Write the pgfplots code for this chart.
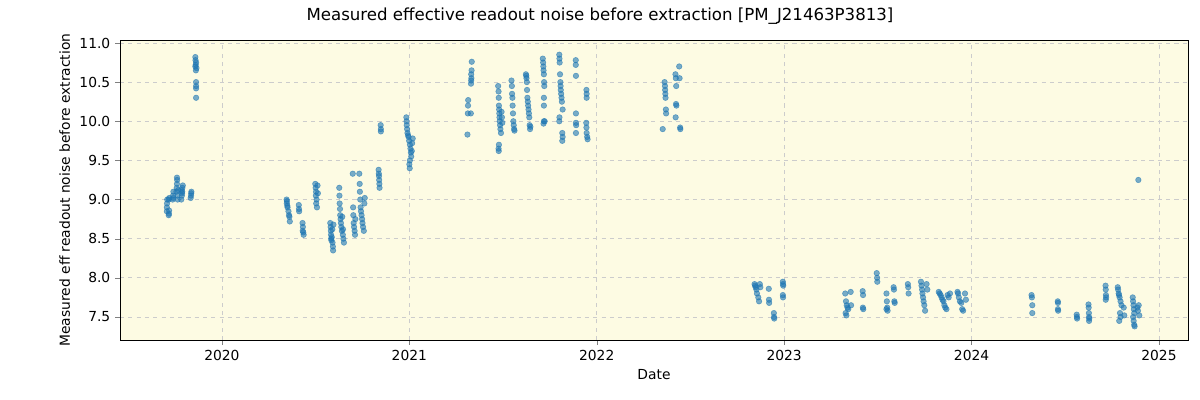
\documentclass[border=0pt]{standalone}
\usepackage{pgfplots}
\pgfplotsset{compat=1.18}
\usepackage{fontspec}
\setmainfont{DejaVu Sans}
\definecolor{bgc}{RGB}{253,251,227}
\definecolor{pts}{RGB}{31,119,180}
\begin{document}
\begin{tikzpicture}
\path[use as bounding box] (-1.2in,-0.6in) rectangle (10.8in,3.4in);
\begin{axis}[
  at={(0,0)}, anchor=south west,
  scale only axis, width=10.68in, height=3in,
  xmin=2019.456, xmax=2025.155, ymin=7.206, ymax=11.038,
  axis background/.style={fill=bgc},
  xtick={2020,2021,2022,2023,2024,2025},
  ytick={7.5,8,8.5,9,9.5,10,10.5,11},
  xticklabel style={/pgf/number format/.cd,set thousands separator={},assume math mode=true},
  yticklabel style={/pgf/number format/.cd,fixed,fixed zerofill,precision=1,assume math mode=true},
  tick align=outside, tick pos=left, major tick length=3.5pt,
  tick label style={font=\fontsize{10}{12}\selectfont},
  label style={font=\fontsize{10}{12}\selectfont},
  grid=major, major grid style={dashed,color=gray!40,line width=0.6pt},
  xlabel={Date}, ylabel={Measured eff readout noise before extraction},
  title={Measured effective readout noise before extraction [PM\_J21463P3813]},
  title style={font=\fontsize{12}{14}\selectfont, at={(0.5,1)}, anchor=center, yshift=0.155in, xshift=-0.54in},
  axis line style={black,line width=0.6pt},
]
\addplot[only marks, mark=*, mark size=2pt, color=pts, fill opacity=0.6, draw opacity=0.6] table {
x y
2019.706 8.90
2019.707 8.95
2019.708 9.00
2019.706 8.85
2019.716 8.80
2019.717 8.82
2019.718 8.86
2019.716 9.00
2019.719 9.02
2019.737 9.00
2019.739 9.05
2019.741 9.10
2019.740 9.02
2019.757 9.10
2019.759 9.15
2019.760 9.20
2019.761 9.25
2019.760 9.28
2019.763 9.05
2019.764 9.00
2019.766 9.12
2019.783 9.00
2019.786 9.05
2019.788 9.10
2019.789 9.15
2019.785 9.12
2019.791 9.18
2019.787 9.08
2019.833 9.02
2019.835 9.05
2019.836 9.08
2019.837 9.10
2019.858 10.82
2019.859 10.78
2019.862 10.75
2019.860 10.72
2019.858 10.70
2019.864 10.68
2019.861 10.65
2019.862 10.50
2019.862 10.45
2019.862 10.42
2019.862 10.30
2020.345 9.00
2020.347 8.98
2020.346 8.95
2020.349 8.92
2020.350 8.90
2020.355 8.85
2020.358 8.80
2020.360 8.78
2020.362 8.72
2020.410 8.93
2020.411 8.88
2020.412 8.85
2020.430 8.70
2020.432 8.65
2020.431 8.60
2020.434 8.58
2020.436 8.55
2020.498 9.20
2020.500 9.15
2020.502 9.10
2020.501 9.05
2020.505 9.00
2020.503 8.95
2020.507 8.90
2020.510 9.18
2020.512 9.08
2020.578 8.70
2020.580 8.65
2020.581 8.60
2020.582 8.55
2020.583 8.50
2020.590 8.45
2020.592 8.40
2020.593 8.35
2020.584 8.48
2020.586 8.52
2020.589 8.62
2020.595 8.68
2020.626 9.15
2020.627 9.05
2020.628 8.95
2020.630 8.88
2020.631 8.80
2020.633 8.75
2020.635 8.70
2020.637 8.65
2020.640 8.60
2020.645 8.55
2020.648 8.50
2020.651 8.45
2020.642 8.78
2020.646 8.62
2020.698 9.33
2020.700 8.90
2020.701 8.80
2020.703 8.70
2020.705 8.65
2020.708 8.60
2020.710 8.55
2020.712 8.75
2020.733 9.33
2020.735 9.20
2020.736 9.10
2020.738 9.00
2020.740 8.90
2020.742 8.85
2020.745 8.80
2020.748 8.75
2020.750 8.70
2020.753 8.65
2020.757 8.60
2020.760 8.95
2020.762 9.02
2020.836 9.38
2020.837 9.33
2020.838 9.30
2020.839 9.25
2020.840 9.20
2020.841 9.15
2020.847 9.95
2020.848 9.90
2020.848 9.87
2020.984 10.05
2020.985 10.00
2020.986 9.95
2020.988 9.90
2020.990 9.85
2020.993 9.82
2020.996 9.80
2020.999 9.75
2021.003 9.70
2021.006 9.65
2021.008 9.60
2021.010 9.55
2021.003 9.50
2021.000 9.45
2021.002 9.40
2021.015 9.72
2021.018 9.78
2021.013 9.62
2021.310 9.83
2021.312 10.10
2021.313 10.20
2021.314 10.27
2021.328 10.10
2021.329 10.48
2021.330 10.52
2021.331 10.55
2021.330 10.60
2021.332 10.65
2021.333 10.76
2021.474 10.45
2021.476 10.38
2021.477 10.30
2021.478 10.20
2021.479 10.15
2021.480 10.10
2021.481 10.05
2021.482 10.00
2021.484 9.95
2021.486 9.90
2021.489 9.85
2021.478 9.70
2021.476 9.65
2021.477 9.62
2021.492 10.12
2021.494 10.05
2021.496 9.98
2021.545 10.52
2021.547 10.45
2021.548 10.35
2021.550 10.30
2021.551 10.20
2021.553 10.10
2021.555 10.00
2021.557 9.95
2021.559 9.90
2021.561 9.88
2021.622 10.60
2021.624 10.58
2021.625 10.55
2021.627 10.50
2021.628 10.40
2021.630 10.30
2021.632 10.25
2021.634 10.20
2021.636 10.15
2021.638 10.10
2021.640 10.05
2021.642 9.95
2021.644 9.90
2021.646 9.93
2021.712 10.80
2021.714 10.75
2021.715 10.70
2021.716 10.65
2021.718 10.60
2021.719 10.50
2021.720 10.45
2021.718 10.30
2021.718 10.20
2021.718 10.00
2021.716 9.97
2021.722 10.00
2021.800 10.85
2021.801 10.80
2021.802 10.75
2021.804 10.60
2021.806 10.50
2021.807 10.45
2021.808 10.40
2021.810 10.35
2021.812 10.30
2021.814 10.25
2021.818 10.15
2021.801 10.05
2021.800 10.00
2021.816 9.85
2021.818 9.80
2021.816 9.75
2021.888 10.78
2021.888 10.72
2021.889 10.58
2021.889 10.10
2021.889 9.98
2021.890 9.95
2021.889 9.85
2021.945 10.40
2021.946 10.35
2021.946 10.30
2021.944 9.98
2021.945 9.92
2021.946 9.85
2021.949 9.80
2021.951 9.77
2022.352 9.90
2022.362 10.50
2022.364 10.45
2022.365 10.40
2022.366 10.35
2022.367 10.30
2022.369 10.15
2022.370 10.10
2022.420 10.60
2022.422 10.55
2022.424 10.45
2022.425 10.20
2022.423 10.22
2022.421 10.05
2022.440 10.70
2022.442 10.55
2022.445 9.92
2022.446 9.90
2022.842 7.92
2022.845 7.90
2022.848 7.88
2022.852 7.85
2022.855 7.80
2022.862 7.75
2022.866 7.70
2022.870 7.92
2022.873 7.88
2022.918 7.86
2022.919 7.72
2022.920 7.68
2022.945 7.55
2022.946 7.50
2022.947 7.48
2022.993 7.95
2022.994 7.92
2022.995 7.90
2022.994 7.75
2022.993 7.78
2023.326 7.80
2023.330 7.70
2023.334 7.65
2023.338 7.62
2023.342 7.60
2023.328 7.55
2023.332 7.52
2023.355 7.82
2023.357 7.65
2023.419 7.83
2023.421 7.78
2023.420 7.62
2023.422 7.60
2023.494 8.06
2023.496 8.00
2023.497 7.95
2023.546 7.80
2023.548 7.70
2023.550 7.62
2023.546 7.60
2023.552 7.58
2023.584 7.88
2023.586 7.85
2023.588 7.70
2023.590 7.68
2023.660 7.92
2023.662 7.88
2023.664 7.80
2023.730 7.95
2023.733 7.90
2023.736 7.85
2023.738 7.80
2023.741 7.75
2023.744 7.70
2023.748 7.65
2023.752 7.58
2023.760 7.92
2023.764 7.85
2023.825 7.82
2023.830 7.80
2023.835 7.78
2023.840 7.75
2023.845 7.72
2023.850 7.70
2023.855 7.65
2023.860 7.62
2023.866 7.60
2023.872 7.78
2023.878 7.75
2023.885 7.80
2023.925 7.82
2023.928 7.80
2023.932 7.75
2023.938 7.70
2023.945 7.68
2023.950 7.60
2023.955 7.58
2023.965 7.80
2023.970 7.72
2024.320 7.78
2024.322 7.75
2024.324 7.65
2024.324 7.55
2024.460 7.70
2024.461 7.68
2024.461 7.60
2024.462 7.58
2024.561 7.53
2024.562 7.50
2024.563 7.48
2024.624 7.66
2024.625 7.62
2024.626 7.55
2024.627 7.50
2024.628 7.48
2024.627 7.45
2024.715 7.90
2024.716 7.85
2024.717 7.78
2024.718 7.75
2024.716 7.72
2024.780 7.88
2024.782 7.85
2024.785 7.80
2024.787 7.78
2024.790 7.75
2024.795 7.70
2024.800 7.65
2024.792 7.55
2024.795 7.50
2024.788 7.45
2024.812 7.62
2024.815 7.52
2024.860 7.75
2024.862 7.70
2024.864 7.65
2024.866 7.60
2024.868 7.55
2024.862 7.50
2024.865 7.45
2024.868 7.40
2024.870 7.38
2024.885 7.62
2024.888 7.58
2024.892 7.65
2024.895 7.52
2024.890 9.25
};
\end{axis}
\end{tikzpicture}
\end{document}
